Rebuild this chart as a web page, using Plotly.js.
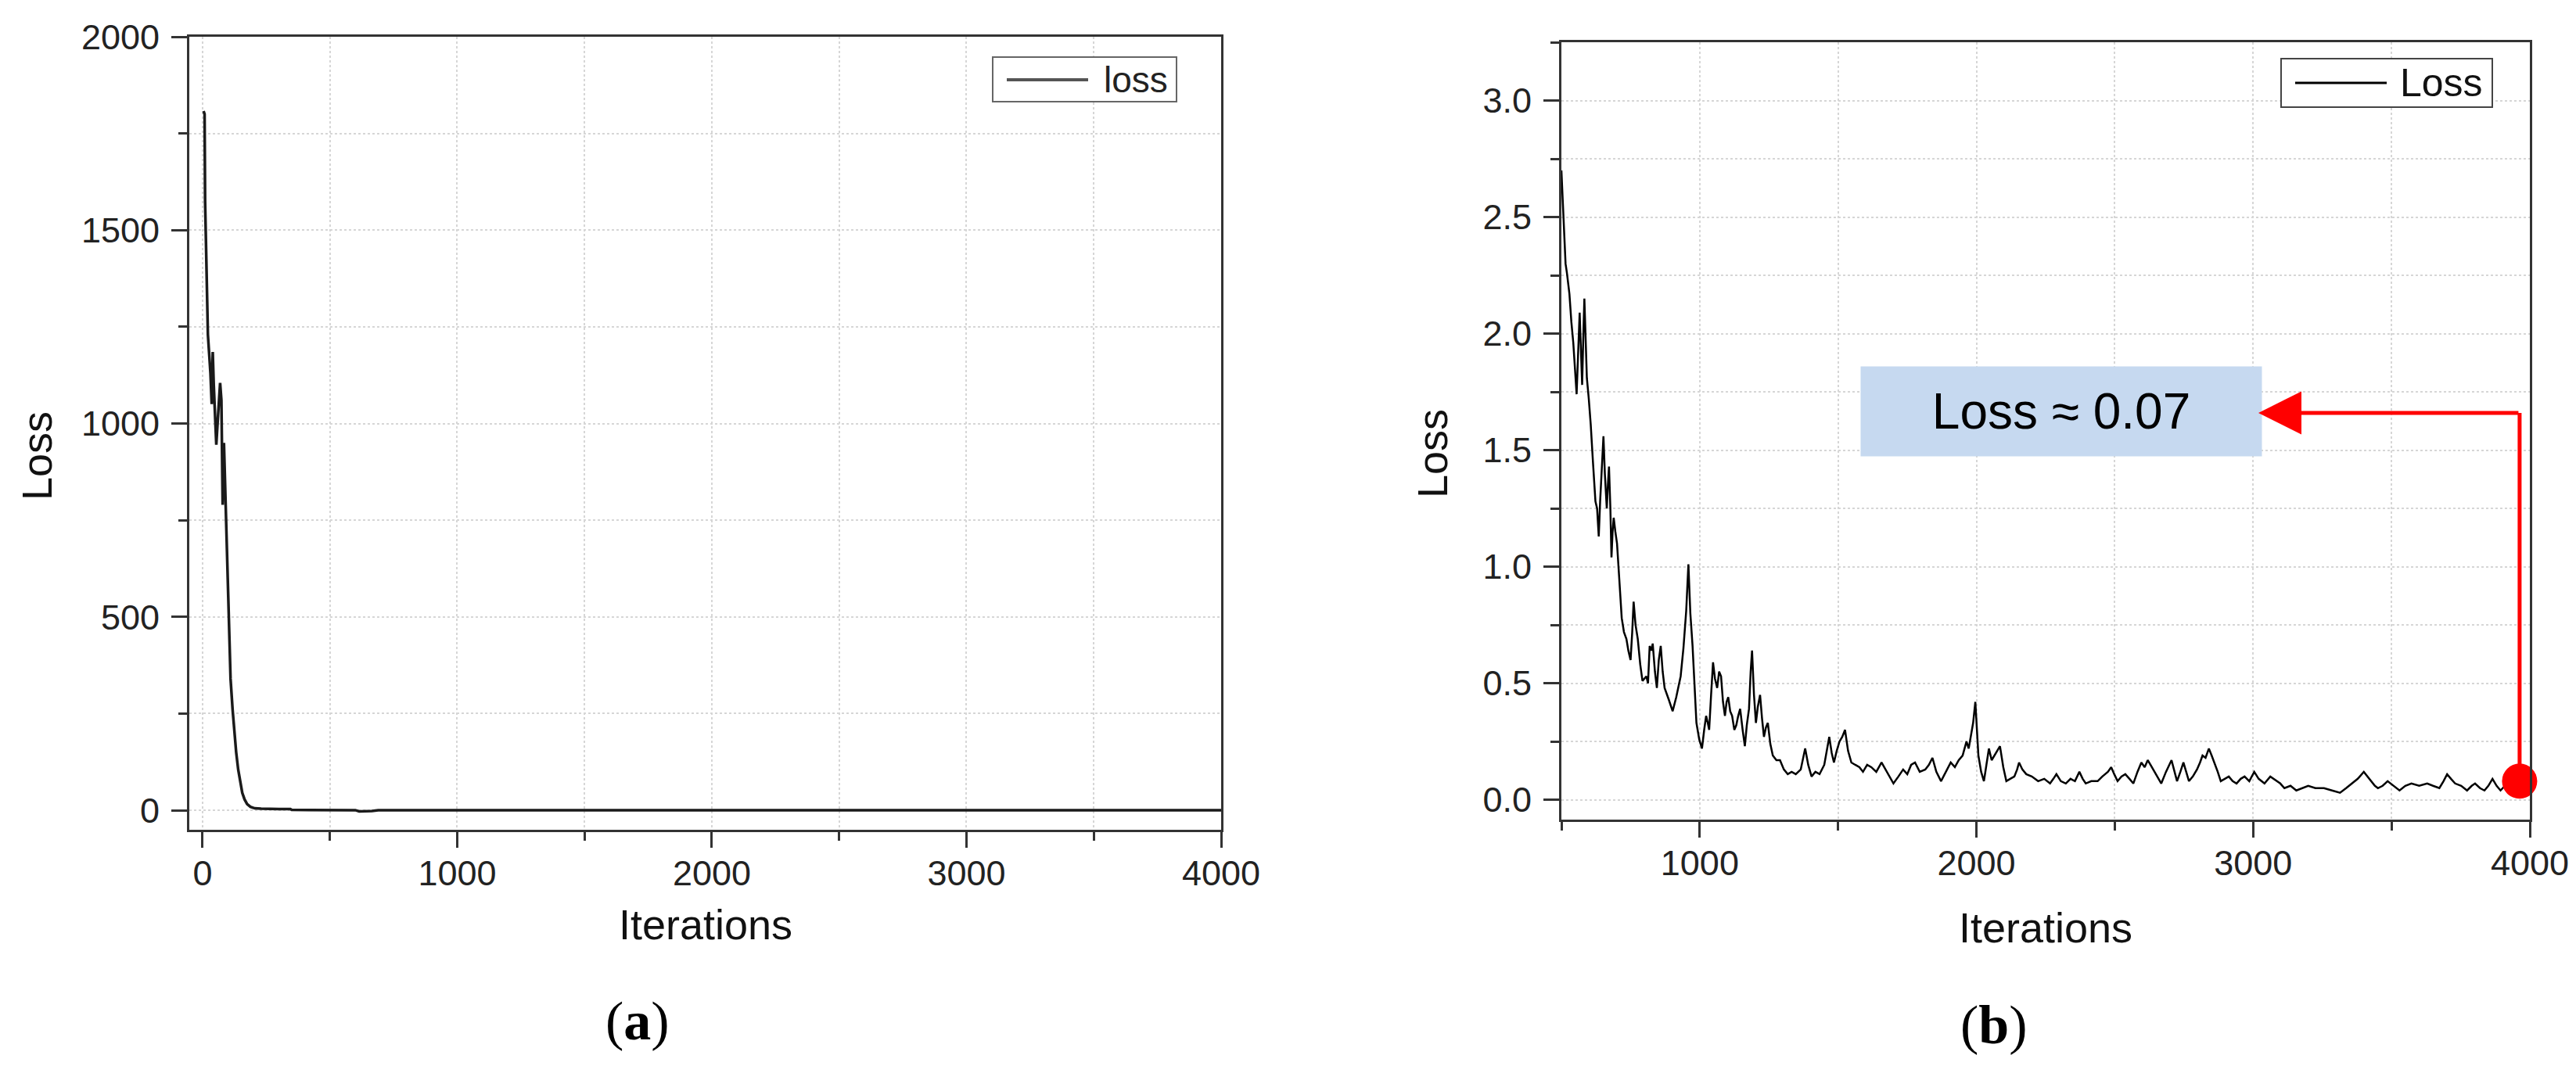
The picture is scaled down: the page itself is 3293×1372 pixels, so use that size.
<!DOCTYPE html>
<html>
<head>
<meta charset="utf-8">
<script src="https://cdn.plot.ly/plotly-3.0.1.min.js"></script>
<style>
  html, body { margin: 0; padding: 0; background: #fff; }
  #chart { width: 3293px; height: 1372px; }
</style>
</head>
<body>
<div id="chart"></div>
<script>
// Panel (a): loss over the whole run
var iterA = [4, 8, 10, 13, 17, 21, 26, 31, 36, 40, 44, 49, 54, 59, 64, 69, 74, 79, 84, 88, 92, 97,
  103, 110, 118, 125, 132, 140, 148, 156, 165, 175, 188, 205, 230, 260, 300, 345, 350, 420, 500,
  600, 615, 640, 665, 690, 700, 1000, 2000, 3000, 4000];
var lossA = [1808, 1800, 1575, 1450, 1340, 1230, 1180, 1130, 1050, 1185, 1100, 1030, 945, 1000,
  1070, 1105, 1060, 790, 950, 860, 760, 600, 470, 340, 260, 200, 150, 105, 70, 45, 28, 16, 9, 5,
  4, 3, 3, 3, 1, 0.5, 0.3, 0.2, -3, -3, -2, 0, 0, 0, 0, 0, 0];

// Panel (b): loss from iteration 500 on
var iterB = [500, 505, 509, 515, 520, 529, 536, 543, 549, 555, 560, 566, 570, 575, 579, 583, 587,
  592, 599, 606, 614, 623, 629, 635, 640, 644, 648, 652, 657, 664, 668, 672, 677, 681, 685, 689,
  695, 701, 709, 718, 726, 735, 742, 750, 756, 761, 768, 776, 785, 793, 800, 807, 813, 819, 825,
  830, 838, 845, 852, 859, 866, 873, 888, 902, 915, 931, 941, 951, 959, 966, 974, 981, 988, 998,
  1008, 1016, 1023, 1029, 1034, 1041, 1048, 1055, 1063, 1070, 1077, 1084, 1091, 1097, 1103, 1110,
  1117, 1125, 1132, 1139, 1146, 1155, 1163, 1170, 1178, 1184, 1189, 1196, 1203, 1210, 1218, 1225,
  1232, 1239, 1246, 1255, 1264, 1277, 1290, 1304, 1318, 1332, 1347, 1365, 1381, 1392, 1404, 1418,
  1433, 1450, 1468, 1477, 1485, 1495, 1505, 1515, 1525, 1536, 1548, 1562, 1577, 1590, 1605, 1620,
  1638, 1657, 1672, 1685, 1700, 1718, 1735, 1750, 1764, 1778, 1795, 1815, 1828, 1841, 1855, 1872,
  1890, 1907, 1922, 1936, 1950, 1964, 1972, 1979, 1988, 1996, 2002, 2007, 2017, 2027, 2036, 2045,
  2055, 2065, 2075, 2085, 2097, 2108, 2122, 2137, 2147, 2154, 2166, 2180, 2200, 2223, 2245, 2266,
  2278, 2289, 2305, 2323, 2340, 2356, 2372, 2384, 2395, 2415, 2438, 2455, 2475, 2487, 2498, 2510,
  2524, 2538, 2553, 2567, 2582, 2596, 2608, 2619, 2629, 2639, 2652, 2668, 2685, 2705, 2716, 2725,
  2737, 2748, 2758, 2768, 2782, 2797, 2808, 2817, 2828, 2840, 2850, 2860, 2872, 2883, 2897, 2912,
  2926, 2940, 2955, 2969, 2986, 3004, 3020, 3041, 3062, 3084, 3098, 3113, 3135, 3156, 3178, 3199,
  3225, 3256, 3285, 3314, 3336, 3357, 3378, 3400, 3414, 3428, 3440, 3451, 3468, 3486, 3508, 3529,
  3550, 3572, 3600, 3629, 3650, 3673, 3688, 3701, 3715, 3730, 3752, 3773, 3790, 3802, 3820, 3836,
  3850, 3865, 3880, 3894, 3910, 3923, 3940];
var lossB = [2.70, 2.55, 2.43, 2.30, 2.26, 2.17, 2.05, 1.96, 1.85, 1.74, 1.90, 2.09, 1.95, 1.78,
  1.98, 2.15, 2.00, 1.81, 1.72, 1.61, 1.45, 1.28, 1.25, 1.13, 1.28, 1.37, 1.50, 1.56, 1.40, 1.25,
  1.35, 1.43, 1.25, 1.04, 1.15, 1.21, 1.15, 1.10, 0.95, 0.78, 0.72, 0.69, 0.64, 0.60, 0.72, 0.85,
  0.75, 0.69, 0.58, 0.51, 0.52, 0.53, 0.50, 0.66, 0.64, 0.67, 0.55, 0.48, 0.60, 0.66, 0.55, 0.48,
  0.43, 0.38, 0.44, 0.53, 0.65, 0.81, 1.01, 0.80, 0.66, 0.48, 0.33, 0.26, 0.22, 0.30, 0.36, 0.33,
  0.30, 0.45, 0.59, 0.52, 0.48, 0.55, 0.53, 0.42, 0.36, 0.42, 0.44, 0.38, 0.36, 0.30, 0.32, 0.36,
  0.39, 0.30, 0.23, 0.32, 0.39, 0.55, 0.64, 0.45, 0.33, 0.40, 0.45, 0.35, 0.27, 0.31, 0.33, 0.24,
  0.19, 0.17, 0.17, 0.13, 0.11, 0.12, 0.11, 0.13, 0.22, 0.15, 0.10, 0.12, 0.11, 0.15, 0.27, 0.20,
  0.16, 0.21, 0.25, 0.27, 0.30, 0.21, 0.16, 0.15, 0.14, 0.12, 0.15, 0.14, 0.12, 0.16, 0.13, 0.10,
  0.07, 0.10, 0.13, 0.11, 0.15, 0.16, 0.12, 0.13, 0.15, 0.18, 0.12, 0.08, 0.12, 0.16, 0.14, 0.17,
  0.19, 0.25, 0.22, 0.27, 0.33, 0.42, 0.30, 0.19, 0.12, 0.08, 0.15, 0.22, 0.17, 0.19, 0.21, 0.23,
  0.14, 0.08, 0.09, 0.10, 0.13, 0.16, 0.13, 0.11, 0.10, 0.08, 0.09, 0.07, 0.09, 0.11, 0.08, 0.07,
  0.09, 0.08, 0.12, 0.09, 0.07, 0.08, 0.08, 0.10, 0.12, 0.14, 0.11, 0.08, 0.10, 0.11, 0.09, 0.07,
  0.12, 0.16, 0.14, 0.17, 0.15, 0.13, 0.10, 0.07, 0.12, 0.17, 0.12, 0.08, 0.12, 0.16, 0.12, 0.08,
  0.10, 0.13, 0.16, 0.19, 0.18, 0.22, 0.19, 0.16, 0.12, 0.08, 0.09, 0.10, 0.08, 0.07, 0.09, 0.10,
  0.08, 0.12, 0.09, 0.07, 0.10, 0.08, 0.07, 0.05, 0.06, 0.04, 0.05, 0.06, 0.05, 0.05, 0.04, 0.03,
  0.05, 0.07, 0.09, 0.12, 0.10, 0.08, 0.06, 0.05, 0.06, 0.08, 0.06, 0.04, 0.06, 0.07, 0.06, 0.07,
  0.06, 0.05, 0.08, 0.11, 0.09, 0.07, 0.06, 0.04, 0.06, 0.07, 0.05, 0.04, 0.06, 0.09, 0.06, 0.04,
  0.06, 0.08, 0.07];

// final point highlighted in (b) and its call-out
var finalIter = [3963];
var finalLoss = [0.08];
var calloutY = 1.66;
var calloutTipX = 3019;
var calloutText = 'Loss \u2248 0.07';

var seriesNames = ['loss', 'Loss'];
var xTitle = 'Iterations';
var yTitle = 'Loss';
var panelLabels = ['(<b>a</b>)', '(<b>b</b>)'];

var W = 3293, H = 1372;
function px(x) { return x / W; }
function py(y) { return 1 - y / H; }

var gridColor = '#d6d6d6';
var axisColor = '#333';
var tickFont = { family: 'Liberation Sans, Arial, sans-serif', size: 45, color: '#222' };

function makeX(range, domain, anchor) {
    return {
        domain: domain, anchor: anchor, range: range,
        dtick: 1000, tick0: 0,
        ticks: 'outside', ticklen: 20, tickwidth: 3, tickcolor: axisColor,
        showline: true, linewidth: 3, linecolor: axisColor, mirror: true,
        showgrid: true, gridcolor: gridColor, gridwidth: 2, griddash: 'dot',
        zeroline: false, tickfont: tickFont, ticklabelstandoff: -6,
        minor: { dtick: 500, tick0: 0, ticks: 'outside', ticklen: 11, tickwidth: 3, tickcolor: axisColor,
                 showgrid: true, gridcolor: gridColor, gridwidth: 2, griddash: 'dot' }
    };
}
function makeY(range, domain, anchor, dtick, fmt) {
    return {
        domain: domain, anchor: anchor, range: range,
        dtick: dtick, tick0: 0, tickformat: fmt,
        ticks: 'outside', ticklen: 20, tickwidth: 3, tickcolor: axisColor,
        showline: true, linewidth: 3, linecolor: axisColor, mirror: true,
        showgrid: true, gridcolor: gridColor, gridwidth: 2, griddash: 'dot',
        zeroline: false, tickfont: tickFont, ticklabelstandoff: 6,
        minor: { dtick: dtick / 2, tick0: 0, ticks: 'outside', ticklen: 11, tickwidth: 3, tickcolor: axisColor,
                 showgrid: true, gridcolor: gridColor, gridwidth: 2, griddash: 'dot' }
    };
}

var data = [
    { x: iterA, y: lossA, type: 'scatter', mode: 'lines', name: seriesNames[0],
      line: { color: '#1a1a1a', width: 3.5 }, xaxis: 'x', yaxis: 'y' },
    { x: iterB, y: lossB, type: 'scatter', mode: 'lines', name: seriesNames[1],
      line: { color: '#000', width: 2.5 }, xaxis: 'x2', yaxis: 'y2' },
    { x: finalIter, y: finalLoss, type: 'scatter', mode: 'markers',
      marker: { color: 'rgb(255,0,0)', size: 45 }, xaxis: 'x2', yaxis: 'y2', cliponaxis: false }
];

var titleFont = { family: 'Liberation Sans, Arial, sans-serif', size: 54, color: '#111' };
var labelFont = { family: 'Liberation Serif, Times New Roman, serif', size: 70, color: '#000' };

// centred text placed at a pixel position of the figure
function label(x, y, text, font, angle) {
    return { x: px(x), y: py(y), xref: 'paper', yref: 'paper', xanchor: 'center', yanchor: 'middle',
             text: text, textangle: angle || 0, showarrow: false, font: font };
}

var annotations = [
    // axis titles
    label(47, 583, yTitle, titleFont, -90),
    label(902, 1182, xTitle, titleFont),
    label(1831, 580, yTitle, titleFont, -90),
    label(2615, 1186, xTitle, titleFont),
    // panel labels
    label(815, 1305, panelLabels[0], labelFont),
    label(2549, 1310, panelLabels[1], labelFont),
    // legend texts
    { x: px(1409), y: py(102), xref: 'paper', yref: 'paper', xanchor: 'left', yanchor: 'middle',
      text: seriesNames[0], showarrow: false,
      font: { family: 'Liberation Sans, Arial, sans-serif', size: 46, color: '#222' } },
    { x: px(3066), y: py(106), xref: 'paper', yref: 'paper', xanchor: 'left', yanchor: 'middle',
      text: seriesNames[1], showarrow: false,
      font: { family: 'Liberation Sans, Arial, sans-serif', size: 50, color: '#111' } },
    // call-out box
    { x: 2307, y: 1.668, xref: 'x2', yref: 'y2', xanchor: 'center', yanchor: 'middle',
      text: calloutText, showarrow: false,
      bgcolor: '#c6d9f0', width: 512, height: 114, borderpad: 0,
      font: { family: 'Liberation Sans, Arial, sans-serif', size: 64, color: '#000' } },
    // red arrow pointing at the box
    { x: calloutTipX, y: calloutY, xref: 'x2', yref: 'y2', ax: finalIter[0], ay: calloutY,
      axref: 'x2', ayref: 'y2', text: '', showarrow: true, arrowhead: 2, arrowsize: 2.2,
      arrowwidth: 5, arrowcolor: 'rgb(255,0,0)', standoff: 0, startstandoff: 0 }
];

var shapes = [
    // legend (a)
    { type: 'rect', xref: 'paper', yref: 'paper', x0: px(1269), x1: px(1504), y0: py(130), y1: py(73),
      line: { color: '#666', width: 2 }, fillcolor: '#fff' },
    { type: 'line', xref: 'paper', yref: 'paper', x0: px(1287), x1: px(1391), y0: py(102), y1: py(102),
      line: { color: '#555', width: 4 } },
    // legend (b)
    { type: 'rect', xref: 'paper', yref: 'paper', x0: px(2916), x1: px(3186), y0: py(137), y1: py(75),
      line: { color: '#444', width: 2 }, fillcolor: '#fff' },
    { type: 'line', xref: 'paper', yref: 'paper', x0: px(2934), x1: px(3051), y0: py(106), y1: py(106),
      line: { color: '#000', width: 3 } },
    // vertical leg of the red arrow
    { type: 'line', xref: 'x2', yref: 'y2', x0: finalIter[0], x1: finalIter[0], y0: finalLoss[0], y1: calloutY,
      line: { color: 'rgb(255,0,0)', width: 5 } }
];

var layout = {
    width: W, height: H,
    margin: { l: 0, r: 0, t: 0, b: 0 },
    paper_bgcolor: '#fff', plot_bgcolor: '#fff',
    showlegend: false,
    font: { family: 'Liberation Sans, Arial, sans-serif' },
    xaxis: makeX([-52, 4000], [px(242), px(1561)], 'y'),
    yaxis: makeY([-50.5, 2000], [py(1061), py(47)], 'x', 500, 'd'),
    xaxis2: makeX([500, 4000], [px(1996), px(3234)], 'y2'),
    yaxis2: makeY([-0.085, 3.25], [py(1048), py(54)], 'x2', 0.5, '.1f'),
    annotations: annotations,
    shapes: shapes
};

Plotly.newPlot('chart', data, layout, { staticPlot: true });
</script>
</body>
</html>
